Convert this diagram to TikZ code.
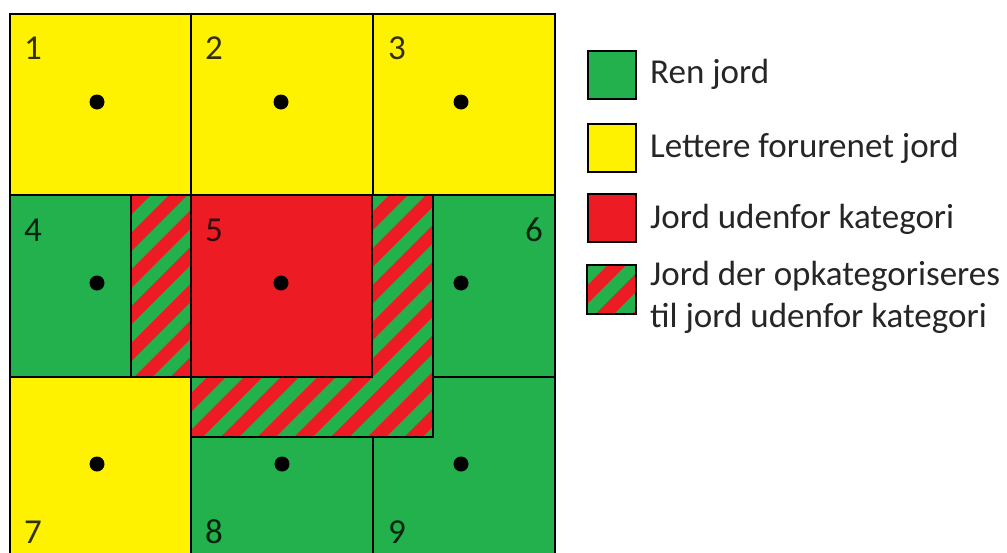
\documentclass[tikz,border=0pt]{standalone}
\usepackage{fontspec}
\setmainfont{Carlito}
\definecolor{rengreen}{HTML}{22B14C}
\definecolor{letyellow}{HTML}{FFF200}
\definecolor{udenred}{HTML}{ED1C24}
% red/green stripes inside a closed path
\newcommand{\hatcharea}[2]{%
  \begin{scope}
    \clip #2;
    \fill[rengreen] #2;
    \foreach \c in {0,...,24}
      \draw[udenred,line width=13pt] ({#1+36.7*\c},600) -- ++(700,-700);
  \end{scope}
  \draw[line width=1.6pt] #2;}

\begin{document}
\begin{tikzpicture}[x=1pt,y=-1pt]
  \tikzstyle{cell}=[draw=black,line width=1.6pt]
  \tikzstyle{num}=[inner sep=0pt,font=\fontsize{35}{42}\selectfont,text=black,text opacity=0.8]
  \tikzstyle{dot}=[circle,fill=black,inner sep=0pt,minimum size=15pt]
  \tikzstyle{key}=[draw=black,line width=2pt,minimum size=48pt,inner sep=0pt]
  \tikzstyle{keytext}=[anchor=base west,inner sep=0pt,font=\fontsize{35}{42}\selectfont,text=black!85]
  \clip (0,0) rectangle (1007,552);
  \fill[white] (0,0) rectangle (1007,552);

  % grid
  \path[cell,fill=letyellow] (10,14) rectangle (191,195);
  \path[cell,fill=letyellow] (191,14) rectangle (373,195);
  \path[cell,fill=letyellow] (373,14) rectangle (555,195);
  \path[cell,fill=rengreen] (10,195) rectangle (191,377);
  \path[cell,fill=rengreen] (373,195) rectangle (555,377);
  \path[cell,fill=letyellow] (10,377) rectangle (191,600);
  \path[cell,fill=rengreen] (191,377) rectangle (373,600);
  \path[cell,fill=rengreen] (373,377) rectangle (555,600);
  \draw[line width=2.8pt] (10,600) -- (10,14) -- (555,14) -- (555,600);

  % upgraded soil and the red cell
  \hatcharea{-300}{(131,195) rectangle (191,377)}
  \hatcharea{-300}{(372,195) -- (433,195) -- (433,437) -- (191,437) -- (191,377) -- (372,377) -- cycle}
  \path[cell,fill=udenred] (191,195) rectangle (372,377);

  % sample points
  \foreach \i/\x/\y in {1/97/102,2/281/102,3/461/102,4/97/283,5/281/283,6/461/283,7/97/464,8/282/464,9/461/464}
    \node[dot] (p\i) at (\x,\y) {};

  % cell numbers
  \node[num,anchor=base west] (n1) at (24,59) {1};
  \node[num,anchor=base west] (n2) at (205,59) {2};
  \node[num,anchor=base west] (n3) at (388,59) {3};
  \node[num,anchor=base west] (n4) at (24,241) {4};
  \node[num,anchor=base west] (n5) at (205,241) {5};
  \node[num,anchor=base east] (n6) at (543,241) {6};
  \node[num,anchor=base west] (n7) at (24,543) {7};
  \node[num,anchor=base west] (n8) at (205,543) {8};
  \node[num,anchor=base west] (n9) at (388,543) {9};

  % legend
  \node[key,fill=rengreen] (kren) at (611.5,74.5) {};
  \node[key,fill=letyellow] (klet) at (611.5,147.5) {};
  \node[key,fill=udenred] (kuden) at (611.5,217.5) {};
  \hatcharea{-268.5}{(587,265) rectangle (636,314)}
  \coordinate (kop) at (611.5,289.5);
  \node[keytext] (tren) at (650,83) {Ren jord};
  \node[keytext] (tlet) at (650,157) {Lettere forurenet jord};
  \node[keytext] (tuden) at (650,228) {Jord udenfor kategori};
  \node[keytext] (top1) at (650,285) {Jord der opkategoriseres};
  \node[keytext] (top2) at (650,327) {til jord udenfor kategori};
\end{tikzpicture}
\end{document}
